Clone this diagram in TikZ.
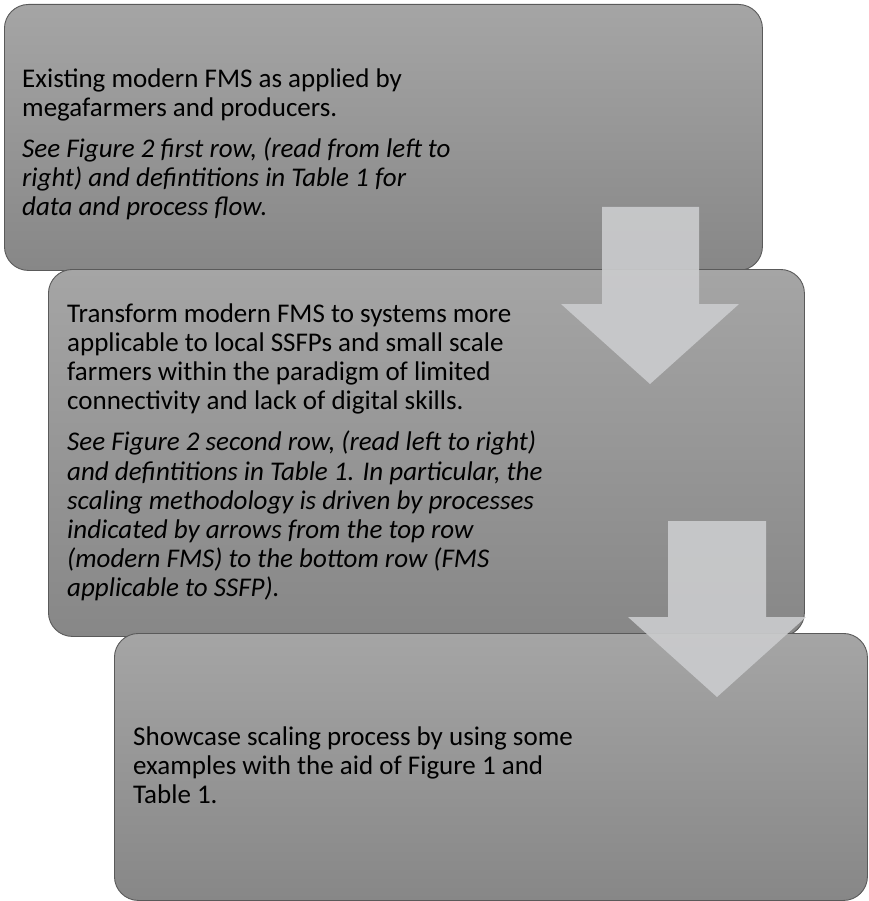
\documentclass[tikz,border=0pt]{standalone}
\usepackage{fontspec}
\setmainfont{Carlito}
\definecolor{boxtop}{HTML}{A5A5A5}
\definecolor{boxbot}{HTML}{878787}
\definecolor{boxline}{HTML}{5A5A5A}
\definecolor{arrowfill}{HTML}{CACBCD}
\begin{document}
\begin{tikzpicture}[x=1pt,y=-1pt,
  box/.style={draw=boxline, line width=0.9pt, rounded corners=24pt, top color=boxtop, bottom color=boxbot, anchor=north west, inner sep=0pt},
  blockarrow/.style={fill=arrowfill, fill opacity=0.92, draw=none},
  txt/.style={anchor=north west, inner sep=0pt, align=left, font=\fontsize{27}{29.2}\selectfont, text=black}]
\useasboundingbox (0,0) rectangle (868,901);
% box 1
\node[box, minimum width=758pt, minimum height=266pt] (b1) at (4,4) {};
\node[txt] (t1) at (22,66.5) {\strut Existing modern FMS as applied by\\
megafarmers and producers.\\[12pt]
\itshape See Figure 2 first row, (read from left to\\
\itshape right) and defintitions in Table 1 for\\
\itshape data and process flow.};
% box 2
\node[box, minimum width=756pt, minimum height=367pt] (b2) at (48,269) {};
\node[txt] (t2) at (67,301.5) {\strut Transform modern FMS to systems more\\
applicable to local SSFPs and small scale\\
farmers within the paradigm of limited\\
connectivity and lack of digital skills.\\[12pt]
\itshape See Figure 2 second row, (read left to right)\\
\itshape and defintitions in Table 1. In particular, the\\
\itshape scaling methodology is driven by processes\\
\itshape indicated by arrows from the top row\\
\itshape (modern FMS) to the bottom row (FMS\\
\itshape applicable to SSFP).};
% arrow 1
\fill[blockarrow] (602,207) -- (699,207) -- (699,304) -- (739,304) -- (650,384) -- (561,304) -- (602,304) -- cycle;
% box 3
\node[box, minimum width=753pt, minimum height=267pt] (b3) at (114,633) {};
\node[txt] (t3) at (133,724.5) {\strut Showcase scaling process by using some\\
examples with the aid of Figure 1 and\\
Table 1.};
% arrow 2
\fill[blockarrow] (668,521) -- (766,521) -- (766,617) -- (806,617) -- (717,697) -- (628,617) -- (668,617) -- cycle;
\end{tikzpicture}
\end{document}
